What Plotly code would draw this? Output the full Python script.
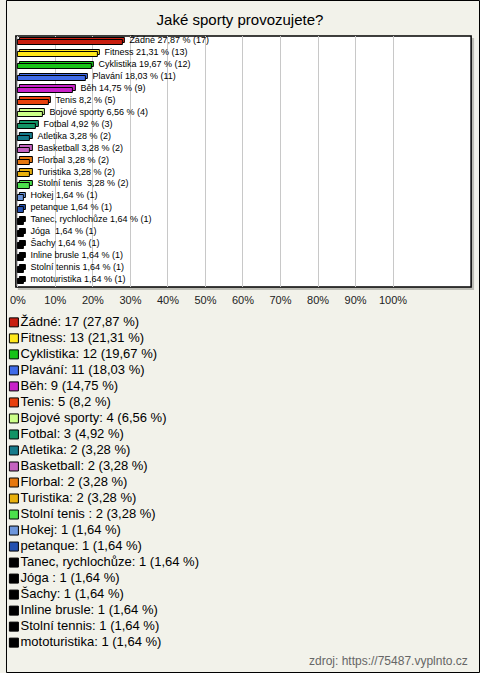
import plotly.graph_objects as go

names = ["Žádné", "Fitness", "Cyklistika", "Plavání", "Běh", "Tenis", "Bojové sporty",
         "Fotbal", "Atletika", "Basketball", "Florbal", "Turistika", "Stolní tenis ",
         "Hokej", "petanque", "Tanec, rychlochůze", "Jóga ", "Šachy", "Inline brusle",
         "Stolní tennis", "mototuristika"]
counts = [17, 13, 12, 11, 9, 5, 4, 3, 2, 2, 2, 2, 2, 1, 1, 1, 1, 1, 1, 1, 1]
percents = [27.87, 21.31, 19.67, 18.03, 14.75, 8.2, 6.56, 4.92, 3.28, 3.28, 3.28, 3.28, 3.28,
            1.64, 1.64, 1.64, 1.64, 1.64, 1.64, 1.64, 1.64]
colors = ["#C81E0F", "#FFE81A", "#17C217", "#3F6BE8", "#C820C8", "#E8400C", "#CCFF88",
          "#129466", "#157A8A", "#C563C0", "#E6780E", "#E8B00C", "#4CE04C", "#6C96DC",
          "#2350B0", "#000000", "#000000", "#000000", "#000000", "#000000", "#000000"]
tick_vals = [0, 10, 20, 30, 40, 50, 60, 70, 80, 90, 100]
tick_text = ["0%", "10%", "20%", "30%", "40%", "50%", "60%", "70%", "80%", "90%", "100%"]

def fmt(v):
    return ("%g" % v).replace(".", ",")

NB = "\u00a0"
bar_labels = [f"{NB}{NB}{n.replace(' ', NB)} {fmt(p)} % ({c})" for n, p, c in zip(names, percents, counts)]
legend_labels = [f"{n}: {c} ({fmt(p)} %)" for n, p, c in zip(names, percents, counts)]

W, H = 480, 673
BG = "#F2F2EA"

fig = go.Figure()

# back face of pseudo-3D bars
fig.add_trace(go.Bar(
    x=percents, y=names, orientation="h", base=0.6,
    width=0.45, offset=-0.36,
    marker=dict(color=colors, line=dict(color="#000000", width=1)),
    text=bar_labels, textposition="outside", cliponaxis=False,
    textfont=dict(family="Arial", size=9, color="#000000"),
    constraintext="none", hoverinfo="skip", showlegend=False,
    xaxis="x", yaxis="y",
))
# front face
fig.add_trace(go.Bar(
    x=percents, y=names, orientation="h",
    width=0.45, offset=-0.16,
    marker=dict(color=colors, line=dict(color="#000000", width=1)),
    showlegend=False, xaxis="x", yaxis="y",
))

# legend drawn as a second subplot
idx = list(range(len(names)))
fig.add_trace(go.Scatter(
    x=[0] * len(names), y=idx, mode="markers+text",
    marker=dict(symbol="square", size=9, color=colors, line=dict(color="#000000", width=1)),
    text=legend_labels, textposition="middle right",
    textfont=dict(family="Arial", size=13, color="#000000"),
    showlegend=False, xaxis="x2", yaxis="y2", cliponaxis=False,
))

px2x = lambda px: px / W
px2y = lambda py: 1 - py / H

band = 15.3
fig.update_layout(
    width=W, height=H,
    margin=dict(l=0, r=0, t=0, b=0),
    paper_bgcolor=BG, plot_bgcolor="rgba(0,0,0,0)",
    barmode="overlay", bargap=0,
    font=dict(family="Arial", color="#000000"),
    title=dict(text="Jaké sporty provozujete?", x=0.5, xanchor="center",
               y=px2y(20), yanchor="middle",
               font=dict(family="Arial", size=15, color="#000000")),
    xaxis=dict(domain=[px2x(10), px2x(471)], range=[-0.53, 120.8],
               tickvals=tick_vals, ticktext=tick_text, showgrid=True,
               gridcolor="#C8C8C8", gridwidth=1, zeroline=False, showline=False,
               ticks="", ticklabelstandoff=5,
               tickfont=dict(family="Arial", size=11, color="#222222"),
               fixedrange=True),
    yaxis=dict(domain=[px2y(287), px2y(36)], autorange="reversed",
               showticklabels=False, showgrid=False, zeroline=False, ticks="",
               fixedrange=True, categoryorder="array", categoryarray=names),
    xaxis2=dict(domain=[0, 1], range=[-8, W - 8], visible=False, fixedrange=True),
    yaxis2=dict(domain=[px2y(643 + band / 2), px2y(322 - band / 2)],
                range=[len(names) - 0.5, -0.5], visible=False, fixedrange=True),
    shapes=[
        dict(type="rect", xref="paper", yref="paper", layer="below",
             x0=px2x(12), x1=px2x(474), y0=px2y(290), y1=px2y(38),
             fillcolor="#BDBDB5", line=dict(width=0)),
        dict(type="rect", xref="paper", yref="paper", layer="below",
             x0=px2x(10), x1=px2x(471), y0=px2y(287), y1=px2y(36),
             fillcolor="#FFFFFF", line=dict(color="#000000", width=1.5)),
        dict(type="rect", xref="paper", yref="paper", layer="above",
             x0=px2x(0.5), x1=px2x(W - 0.5), y0=px2y(H - 0.5), y1=px2y(0.5),
             line=dict(color="#000000", width=1)),
    ],
    annotations=[
        dict(text="zdroj: https://75487.vyplnto.cz", xref="paper", yref="paper",
             x=px2x(470), y=px2y(661), xanchor="right", yanchor="middle",
             showarrow=False, font=dict(family="Arial", size=12, color="#666666")),
    ],
)

fig.write_html("out.html", config={"displayModeBar": False},
               post_script="document.body.style.margin='0px';document.body.style.overflow='hidden';")
